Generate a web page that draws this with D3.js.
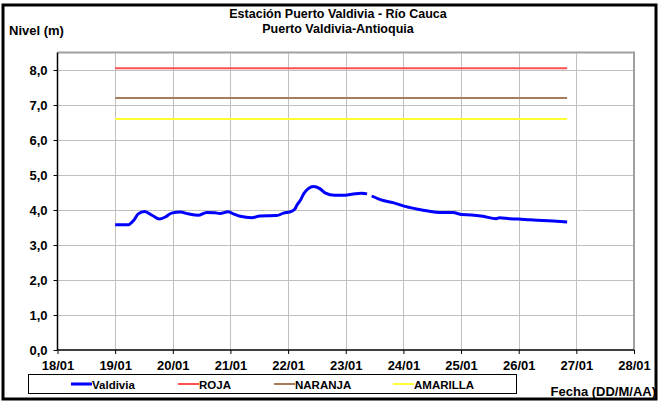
<!DOCTYPE html>
<html><head><meta charset="utf-8">
<script src="https://cdn.jsdelivr.net/npm/d3@7/dist/d3.min.js"></script>
<style>
body{margin:0;background:#fff;}
text{font-family:"Liberation Sans",Arial,sans-serif;font-weight:bold;}
</style></head>
<body><svg id="c" width="660" height="405"></svg>
<script>
// Data: time in fractional day of January, level in metres (null = gap)
const valdiviaDay = [19.00,19.23,19.32,19.40,19.51,19.64,19.77,19.87,19.98,20.13,20.27,20.44,20.59,20.73,20.82,20.96,21.05,21.17,21.37,21.51,21.80,21.92,22.06,22.12,22.15,22.21,22.27,22.35,22.44,22.55,22.64,22.81,22.99,23.13,23.28,23.37,23.41,23.45,23.65,23.82,24.01,24.23,24.43,24.63,24.86,25.01,25.18,25.38,25.61,25.67,25.84,25.99,26.19,26.42,26.66,26.84];
const valdiviaLevel = [3.58,3.58,3.70,3.89,3.96,3.85,3.74,3.80,3.91,3.94,3.89,3.85,3.93,3.92,3.90,3.95,3.89,3.82,3.78,3.83,3.84,3.91,3.96,4.03,4.13,4.27,4.46,4.61,4.67,4.61,4.49,4.42,4.42,4.46,4.48,4.46,null,4.40,4.27,4.21,4.11,4.03,3.97,3.93,3.93,3.87,3.86,3.82,3.75,3.78,3.75,3.74,3.72,3.70,3.68,3.66];
const thresholdNames = ["ROJA","NARANJA","AMARILLA"];
const thresholdLevels = [8.05,7.2,6.6];
const thresholdStart = 19.0, thresholdEnd = 26.84;
const xDomain = [18,28];
const yDomain = [0,8.5];
const yTicks = [0,1,2,3,4,5,6,7,8];
const xTickDays = [18,19,20,21,22,23,24,25,26,27,28];
const legendNames = ["Valdivia","ROJA","NARANJA","AMARILLA"];

const colors = {Valdivia:"#0000ff",ROJA:"#ff5050",NARANJA:"#a67c5b",AMARILLA:"#ffff33"};
function dt(d){const base=Math.floor(d);return new Date(new Date(2019,0,base).getTime()+(d-base)*86400000);}

const svg = d3.select("#c");
svg.append("rect").attr("x",3).attr("y",5).attr("width",653).attr("height",394)
  .attr("fill","#fff").attr("stroke","#000").attr("stroke-width",3);

const L=57.5,R=634,T=52.5,B=350;
const x = d3.scaleTime().domain(xDomain.map(dt)).range([L,R]);
const y = d3.scaleLinear().domain(yDomain).range([B,T]);

// grid
const g = svg.append("g");
g.selectAll(".hg").data(yTicks.slice(1)).join("line")
  .attr("x1",L).attr("x2",R).attr("y1",d=>Math.round(y(d))+0.5).attr("y2",d=>Math.round(y(d))+0.5)
  .attr("stroke","#c0c0c0").attr("stroke-width",1);
g.selectAll(".vg").data(xTickDays.slice(1)).join("line")
  .attr("y1",T).attr("y2",B).attr("x1",d=>Math.round(x(dt(d)))+0.5).attr("x2",d=>Math.round(x(dt(d)))+0.5)
  .attr("stroke","#c0c0c0").attr("stroke-width",1);
svg.append("path").attr("d",`M${L},${T}H${R}V${B}`).attr("fill","none").attr("stroke","#a0a0a0").attr("stroke-width",2);

// threshold lines
thresholdNames.forEach((n,i)=>{
  svg.append("line").attr("x1",x(dt(thresholdStart))).attr("x2",x(dt(thresholdEnd)))
    .attr("y1",y(thresholdLevels[i])).attr("y2",y(thresholdLevels[i]))
    .attr("stroke",colors[n]).attr("stroke-width",2);
});

// series
const pts = valdiviaDay.map((d,i)=>({d:dt(d),v:valdiviaLevel[i]}));
svg.append("path").datum(pts)
  .attr("d",d3.line().defined(p=>p.v!==null).x(p=>x(p.d)).y(p=>y(p.v)).curve(d3.curveMonotoneX))
  .attr("fill","none").attr("stroke",colors.Valdivia).attr("stroke-width",3).attr("stroke-linejoin","round");

// axes
const yAxis = d3.axisLeft(y).tickValues(yTicks).tickSize(4).tickPadding(6).tickFormat(d=>d3.format(".1f")(d).replace(".",","));
const ya = svg.append("g").attr("transform",`translate(${L},0)`).call(yAxis);
const xAxis = d3.axisBottom(x).tickValues(xTickDays.map(dt)).tickSize(4).tickPadding(7).tickFormat(d3.timeFormat("%d/%m"));
const xa = svg.append("g").attr("transform",`translate(0,${B})`).call(xAxis);
[ya,xa].forEach(a=>{a.select(".domain").attr("stroke","#000").attr("stroke-width",1.5);
  a.selectAll(".tick line").attr("stroke","#000");
  a.selectAll("text").attr("font-size",13).attr("fill","#000").attr("font-family","Liberation Sans, Arial, sans-serif").attr("font-weight","bold");});
ya.select(".domain").attr("d",`M0,${T}V${B}`);
xa.select(".domain").attr("d",`M${L},0H${R}`);

// titles
svg.append("text").attr("x",338).attr("y",18).attr("text-anchor","middle").attr("font-size",12.5).text("Estación Puerto Valdivia - Río Cauca");
svg.append("text").attr("x",338).attr("y",33).attr("text-anchor","middle").attr("font-size",12.5).text("Puerto Valdivia-Antioquia");
svg.append("text").attr("x",9).attr("y",35).attr("font-size",13).text("Nivel (m)");
svg.append("text").attr("x",656).attr("y",396).attr("text-anchor","end").attr("font-size",13).text("Fecha (DD/M/AA)");

// legend
svg.append("rect").attr("x",28.5).attr("y",374.5).attr("width",488).attr("height",19).attr("fill","#fff").attr("stroke","#000").attr("stroke-width",1);
const legX = [71,178,274,393];
legendNames.forEach((n,i)=>{
  svg.append("line").attr("x1",legX[i]).attr("x2",legX[i]+21).attr("y1",384).attr("y2",384)
    .attr("stroke",colors[n]).attr("stroke-width",n==="Valdivia"?3:2);
  svg.append("text").attr("x",legX[i]+21).attr("y",388.5).attr("font-size",11.5).text(n);
});
</script></body></html>
